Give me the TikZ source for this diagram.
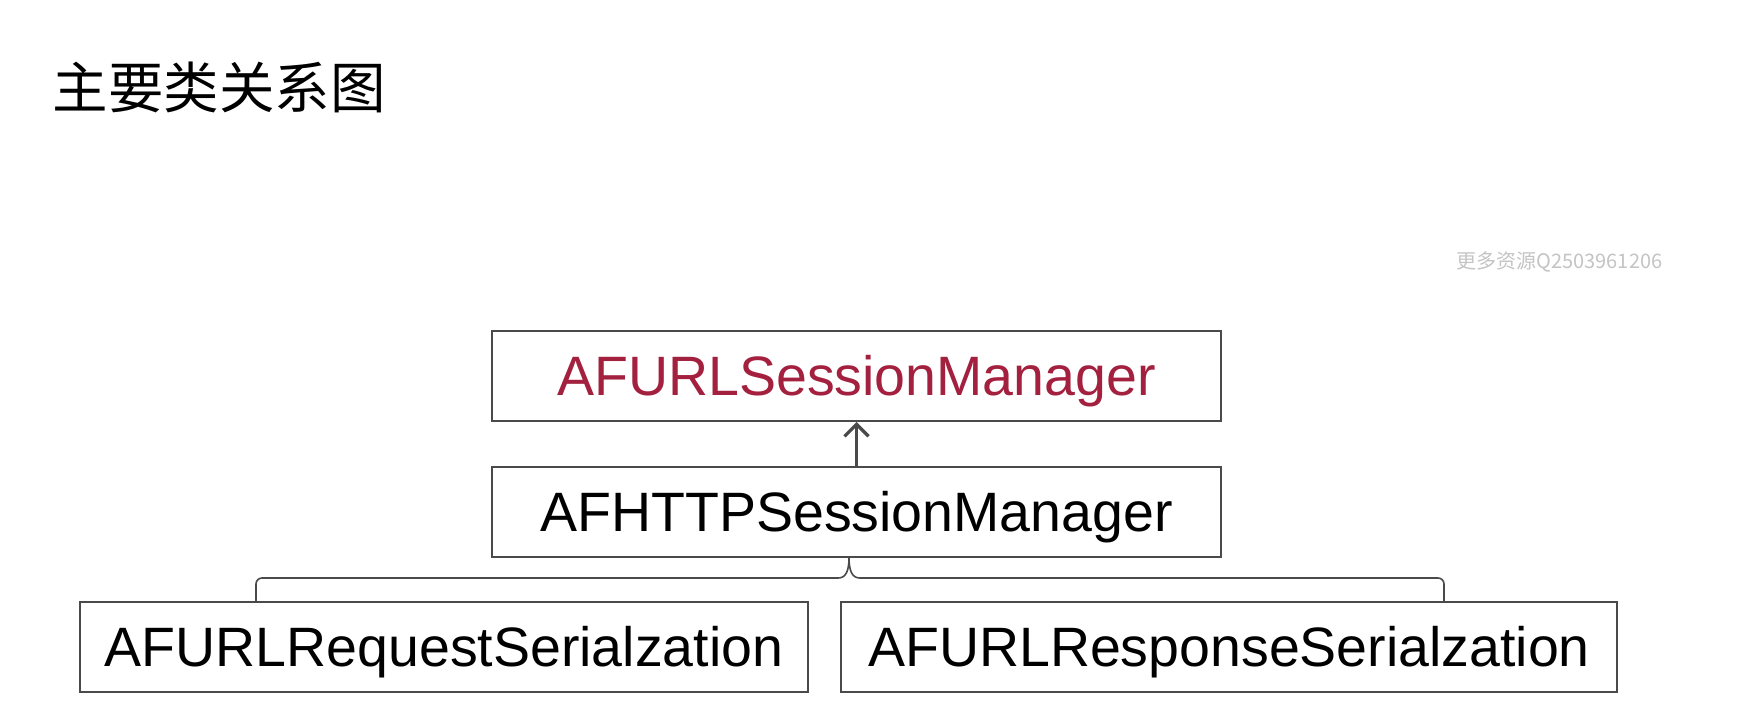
\documentclass[tikz,border=0pt]{standalone}
\usepackage{fontspec}
\setmainfont{Liberation Sans}
\newfontfamily\cjk{Noto Sans CJK SC}
\usetikzlibrary{arrows.meta}
\definecolor{boxline}{HTML}{4A4A4A}
\definecolor{redtext}{HTML}{A3203F}
\definecolor{wmgray}{HTML}{C4C4C4}
\begin{document}
\begin{tikzpicture}[x=1pt,y=-1pt,
  cls/.style={draw=boxline, line width=2pt, inner sep=0pt,
    text height=39pt, text depth=0pt, minimum height=90pt,
    font=\fontsize{55.5}{60}\selectfont},
  inherit/.style={draw=boxline, line width=2.5pt,
    -{Straight Barb[length=12pt,width=24pt,line width=3.2pt]}},
  bracket/.style={draw=boxline, line width=1.6pt}]
\useasboundingbox[fill=white] (0,0) rectangle (1740,716);

\node[anchor=base west, font=\cjk\fontsize{55.5}{60}\selectfont] (title) at (49,108) {主要类关系图};
\node[anchor=base west, text=wmgray, font=\cjk\fontsize{20}{22}\selectfont] (wm) at (1453,268) {更多资源Q2503961206};

\node[cls, minimum width=729pt, text=redtext] (top) at (856.5,376) {AFURLSessionManager};
\node[cls, minimum width=729pt] (mid) at (856.5,512) {AFHTTPSessionManager};
\node[cls, minimum width=728pt] (left) at (444,647) {AFURLRequestSerialzation};
\node[cls, minimum width=776pt] (right) at (1229,647) {AFURLResponseSerialzation};

\draw[inherit] (mid.north) -- (top.south);

\coordinate (lt) at (256,602);
\coordinate (rt) at (1444,602);
\coordinate (sp) at (849,557);
\draw[bracket, rounded corners=6pt] (lt) |- (838,578);
\draw[bracket] (838,578) .. controls (846,578) and (849,571) .. (sp)
  .. controls (849,571) and (852,578) .. (860,578);
\draw[bracket, rounded corners=6pt] (860,578) -| (rt);
\end{tikzpicture}
\end{document}
